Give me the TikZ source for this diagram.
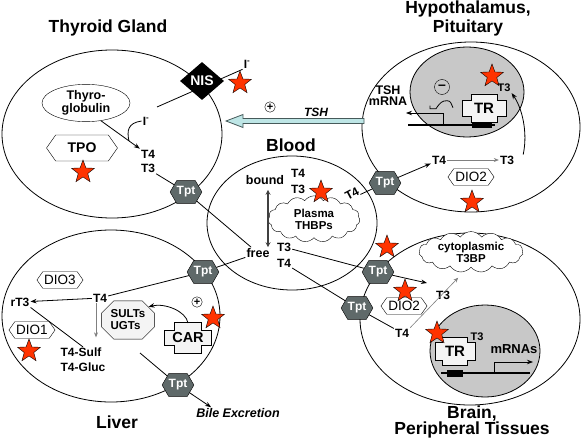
\documentclass[tikz,border=0pt]{standalone}
\usepackage{fontspec}
\setmainfont{Liberation Sans}
\usetikzlibrary{shapes.geometric, shapes.symbols, shapes.misc, arrows.meta, positioning, calc}
\definecolor{tptgray}{RGB}{95,105,105}
\definecolor{nucgray}{RGB}{200,200,200}
\definecolor{stared}{RGB}{255,51,0}
\definecolor{tshcyan}{RGB}{190,230,230}
\definecolor{tshline}{RGB}{70,90,90}
\definecolor{boxwhite}{RGB}{244,244,244}

\tikzset{
  organ/.style={ellipse, draw, inner sep=0pt, line width=0.8pt},
  nucleus/.style={ellipse, draw, fill=nucgray, inner sep=0pt, line width=0.8pt},
  title/.style={font=\fontsize{17.5}{19}\selectfont\bfseries, align=center, inner sep=0pt},
  lbl/.style={font=\fontsize{12}{13}\selectfont\bfseries, inner sep=1pt},
  tpt/.style={signal, signal to=east and west, signal pointer angle=120, draw, fill=tptgray,
              text=white, font=\fontsize{12}{12}\selectfont\bfseries, inner xsep=0pt, inner ysep=6pt},
  hexbox/.style={signal, signal to=east and west, signal pointer angle=110, draw, fill=white,
                 font=\fontsize{13.5}{14}\selectfont, inner xsep=1.5pt, inner ysep=3.5pt},
  nisbox/.style={diamond, fill=black, text=white, font=\fontsize{14}{14}\selectfont\bfseries,
                 minimum width=44pt, minimum height=38pt, inner sep=0pt},
  octbox/.style={chamfered rectangle, chamfered rectangle xsep=6pt, chamfered rectangle ysep=6pt,
                 draw, fill=boxwhite, align=left, font=\fontsize{11.5}{12}\selectfont\bfseries, inner sep=3pt},
  cloudbox/.style={cloud, cloud puffs=15, cloud puff arc=110, draw, fill=white, align=center,
                   font=\fontsize{11.5}{12}\selectfont\bfseries, inner sep=1.5pt},
  hormone/.style={star, star points=5, star point ratio=2.4, minimum size=24pt, inner sep=0pt,
                  draw, fill=stared},
  signbox/.style={circle, draw, inner sep=0.5pt, font=\fontsize{11}{11}\selectfont\bfseries},
  link/.style={line width=0.8pt},
  arrow/.style={link, -{Stealth[length=6pt, width=4.5pt]}},
  thinarrow/.style={draw=gray, line width=0.6pt, -{Stealth[length=5pt, width=4pt]}},
  bothway/.style={line width=2pt, draw=darkgray, {Stealth[length=5pt, width=5pt]}-{Stealth[length=5pt, width=5pt]}},
  dna/.style={line width=2.5pt},
  pics/receptor/.style n args={4}{code={
    \draw[fill=boxwhite, line width=0.8pt] (-#1,-#2) -- (-#3,-#2) -- (-#3,-#4) -- (#3,-#4) -- (#3,-#2)
      -- (#1,-#2) -- (#1,#2) -- (#3,#2) -- (#3,#4) -- (-#3,#4) -- (-#3,#2) -- (-#1,#2) -- cycle;
  }},
}

\begin{document}
\begin{tikzpicture}[x=1pt, y=-1pt]
  \useasboundingbox[fill=white] (0,0) rectangle (585,441);

  % compartments
  \node[organ, minimum width=220pt, minimum height=168pt] (thyroid) at (112,134) {};
  \node[organ, minimum width=170pt, minimum height=134pt] (blood) at (292,223) {};
  \node[organ, minimum width=218pt, minimum height=170pt] (pituitary) at (471,127) {};
  \node[organ, minimum width=218pt, minimum height=172pt] (liver) at (111,316) {};
  \node[organ, minimum width=220pt, minimum height=172pt] (brain) at (470,319) {};
  \node[nucleus, minimum width=114pt, minimum height=90pt] (nucpit) at (467,92) {};
  \node[nucleus, minimum width=110pt, minimum height=92pt] (nucbrain) at (485,351) {};

  \node[title] (thytitle) at (108,28) {Thyroid Gland};
  \node[title] (pittitle) at (468,18) {Hypothalamus,\\Pituitary};
  \node[title] (bloodtitle) at (291,145) {Blood};
  \node[title] (livertitle) at (117,422) {Liver};
  \node[title, font=\fontsize{17.5}{15}\selectfont\bfseries] (braintitle) at (472,422) {Brain,\\Peripheral Tissues};

  % thyroid gland
  \node[lbl] (iout) at (247,64) {I\textsuperscript{-}};
  \node[lbl] (iin) at (146,121) {I\textsuperscript{-}};
  \coordinate (nisa) at (157,107);
  \draw[link] (nisa) -- (iout.south west);
  \node[nisbox] (nis) at (202,81) {NIS};
  \node[hormone] (stnis) at (240,83) {};
  \node[lbl, ellipse, draw, fill=white, align=center, font=\fontsize{12.5}{10}\selectfont\bfseries,
        minimum width=88pt, minimum height=36pt] (tglob) at (86,103) {Thyro-\\globulin};
  \node[lbl] (t4g) at (148,154) {T4};
  \node[lbl, below=4pt of t4g] (t3g) {T3};
  \node[hexbox, font=\fontsize{14}{14}\selectfont\bfseries, inner xsep=12pt, inner ysep=8pt] (tpo) at (82,148) {TPO};
  \node[hormone] (sttpo) at (83,172) {};
  \draw[arrow] (tglob.-50) -- (t4g.north west);
  \draw[link] (iin.west) .. controls +(-14,2) and +(-2,-10) .. ($(tglob.-50)!0.72!(t4g.north west)$);
  \node[tpt] (tptthy) at (186,192) {Tpt};

  % TSH
  \coordinate (tshfrom) at (364,121);
  \coordinate (tshto) at (226,121);
  \draw[draw=tshline, fill=tshcyan, line width=0.8pt] ($(tshfrom)+(0,-2.5)$) -- ($(tshto)+(17,-2.5)$)
    -- ($(tshto)+(17,-6.5)$) -- (tshto) -- ($(tshto)+(17,6.5)$) -- ($(tshto)+(17,2.5)$)
    -- ($(tshfrom)+(0,2.5)$) -- cycle;
  \node[signbox] (tshplus) at (270,107) {+};
  \node[lbl, font=\fontsize{12}{12}\selectfont\bfseries\itshape] (tshlbl) at (316,112) {TSH};

  % blood
  \node[lbl, font=\fontsize{12.5}{13}\selectfont\bfseries] (bound) at (265,180) {bound};
  \node[lbl] (bt4) at (298,173) {T4};
  \node[lbl] (bt3) at (298,189) {T3};
  \node[cloudbox, aspect=2.4, inner sep=3pt] (thbp) at (314,219) {Plasma\\THBPs};
  \node[hormone] (stblood) at (321,192) {};
  \node[lbl, font=\fontsize{12.5}{13}\selectfont\bfseries] (free) at (258,253) {free};
  \node[lbl] (ft3) at (284,247) {T3};
  \node[lbl] (ft4) at (284,263) {T4};
  \draw[bothway] ([xshift=3pt, yshift=-4pt]bound.south) -- ([xshift=3pt]bound.south |- free.north);
  \node[lbl, rotate=28, inner sep=0pt] (bt4r) at (352,194) {T4};
  \draw[link] (t3g) -- (tptthy) -- (free);

  % hypothalamus, pituitary
  \node[tpt] (tptpit) at (385,183) {Tpt};
  \node[lbl] (pt4) at (439,160) {T4};
  \node[lbl] (pt3) at (507,160) {T3};
  \draw[link] (bt4r.south east) -- (tptpit);
  \draw[arrow] (tptpit) -- (pt4);
  \draw[thinarrow] (pt4) -- (pt3);
  \node[hexbox] (dio2p) at (471,177) {DIO2};
  \node[hormone] (stdiop) at (472,202) {};
  \coordinate (dnapa) at (408,125);
  \coordinate (dnapb) at (495,125);
  \draw[dna] (dnapa) -- (dnapb);
  \node[fill=black, minimum width=20pt, minimum height=6pt, inner sep=0pt] (trep) at (482,125) {};
  \pic at (484,108) {receptor={22}{8}{13}{14}};
  \node[lbl, font=\fontsize{15}{15}\selectfont\bfseries] (trpit) at (484,108) {TR};
  \node[hormone] (sttrp) at (492,76) {};
  \node[lbl, font=\fontsize{11}{11}\selectfont\bfseries] (pt3n) at (504,88) {T3};
  \draw[arrow] ([xshift=8pt]pt3.north east) .. controls (528,132) and (522,108) .. (pt3n.south east);
  \node[signbox, minimum size=15pt, font=\fontsize{14}{14}\selectfont\bfseries] (repr) at (442,87) {--};
  \draw[link] ($(repr.south)+(-12,11)$) -- ++(0,3) -- ++(6,0) .. controls +(4,-6) and +(-5,0) .. ++(11,-8)
    .. controls +(4,0) and +(-2,-4) .. ++(6,7);
  \coordinate (tshgene) at (443,125);
  \coordinate (tshmrna) at (406,113);
  \draw[arrow] (tshgene) |- (tshmrna);
  \node[lbl, align=center, font=\fontsize{12.5}{11}\selectfont\bfseries] (mrnalbl) at (388,96) {TSH\\mRNA};

  % brain, peripheral tissues
  \node[tpt] (tptbr1) at (378,272) {Tpt};
  \node[tpt] (tptbr2) at (357,308) {Tpt};
  \node[hormone] (sttpt) at (387,247) {};
  \coordinate (t3entry) at (427,283);
  \draw[link] (ft3) -- (tptbr1);
  \draw[arrow] (tptbr1) -- (t3entry);
  \node[lbl] (brt4) at (402,333) {T4};
  \draw[link] (ft4) -- (tptbr2) -- (brt4);
  \node[hexbox] (dio2b) at (404,306) {DIO2};
  \node[hormone] (stdiob) at (405,291) {};
  \node[lbl] (brt3) at (443,295) {T3};
  \node[cloudbox, aspect=3.4, inner sep=0.5pt] (t3bp) at (471,252) {cytoplasmic\\T3BP};
  \draw[thinarrow, shorten >=8pt] (brt4.north east) -- (t3bp.250);
  \coordinate (dnaba) at (441,373);
  \coordinate (dnabb) at (530,373);
  \draw[dna] (dnaba) -- (dnabb);
  \node[fill=black, minimum width=16pt, minimum height=7pt, inner sep=0pt] (treb) at (455,373) {};
  \pic at (455,351) {receptor={20}{9}{12.5}{14}};
  \node[lbl, font=\fontsize{15}{15}\selectfont\bfseries] (trbrain) at (455,351) {TR};
  \node[hormone] (sttrb) at (437,333) {};
  \node[lbl, font=\fontsize{11}{11}\selectfont\bfseries] (brt3n) at (477,337) {T3};
  \coordinate (gene) at (494,373);
  \coordinate (mrnaend) at (533,362);
  \draw[arrow] (gene) |- (mrnaend);
  \node[lbl, font=\fontsize{13}{13}\selectfont\bfseries] (mrnas) at (514,349) {mRNAs};

  % liver
  \node[hexbox] (dio3) at (60,280) {DIO3};
  \node[lbl] (rt3) at (20,302) {rT3};
  \node[lbl] (lt4) at (100,298) {T4};
  \node[lbl, align=left, font=\fontsize{12}{15}\selectfont\bfseries] (lsulf) at (83,360) {T4-Sulf\\T4-Gluc};
  \node[hexbox] (dio1) at (32,330) {DIO1};
  \node[hormone] (stdio1) at (29,351) {};
  \node[octbox] (sults) at (128,320) {SULTs\\UGTs};
  \pic at (188,338) {receptor={23.5}{7.5}{13.5}{15.5}};
  \node[lbl, font=\fontsize{14.5}{15}\selectfont\bfseries] (car) at (188,338) {CAR};
  \node[signbox] (carplus) at (197,302) {+};
  \node[hormone] (stcar) at (213,318) {};
  \node[tpt] (tptliv1) at (203,272) {Tpt};
  \node[tpt] (tptliv2) at (178,385) {Tpt};
  \node[lbl, font=\fontsize{12.5}{13}\selectfont\bfseries\itshape] (bile) at (238,413) {Bile Excretion};
  \draw[arrow] (lt4) -- (rt3);
  \draw[link] (rt3.south east) -- (lsulf.north);
  \draw[thinarrow] ([xshift=-4pt]lt4.south) -- ++(0,34);
  \draw[link] (free) -- (tptliv1) -- (lt4);
  \draw[arrow] (188,323) .. controls +(-2,-12) and +(16,-4) .. (sults.north east);
  \coordinate (conjout) at (140,353);
  \draw[link] (conjout) -- (tptliv2);
  \draw[arrow] (tptliv2) -- ([xshift=16pt]bile.north west);
\end{tikzpicture}
\end{document}
